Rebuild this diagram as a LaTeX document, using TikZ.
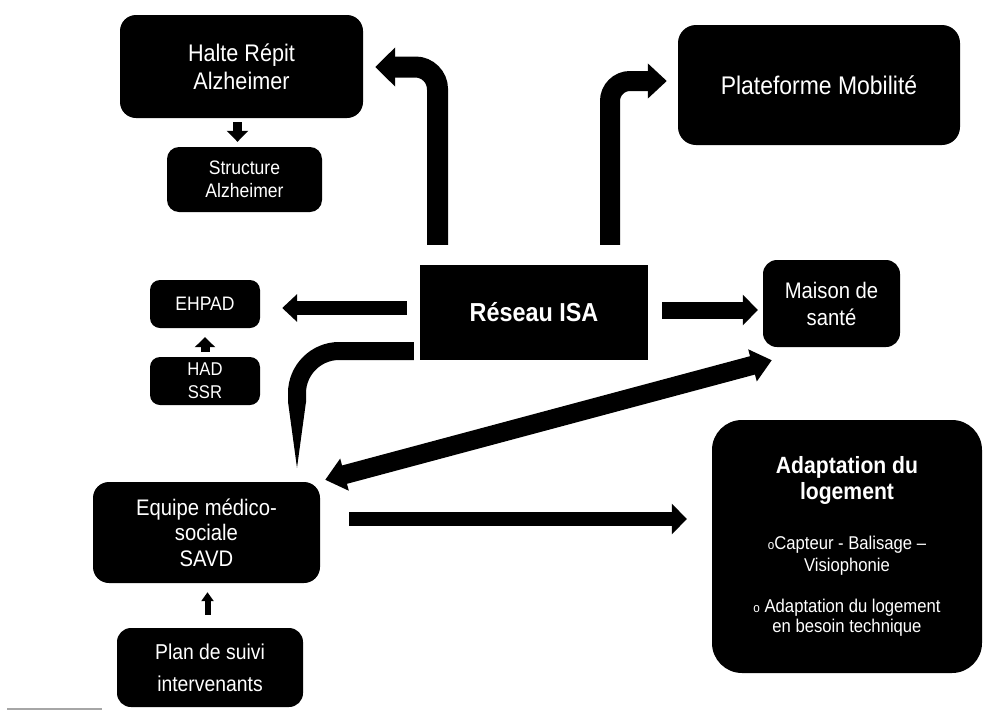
\documentclass[tikz,border=0pt]{standalone}
\usepackage{fontspec}
\setmainfont{Liberation Sans}[FakeStretch=0.9]
\usetikzlibrary{arrows.meta,calc}
\newcommand\fsz[2]{\fontsize{#1}{#2}\selectfont}
\begin{document}
\begin{tikzpicture}[x=1pt,y=-1pt,
  box/.style={fill=black, text=white, inner sep=0pt, align=center},
  arr/.style={draw=black, line cap=butt}]
\useasboundingbox (0,0) rectangle (986,710);

% boxes
\node[box, rounded corners=16pt, minimum width=243pt, minimum height=103pt, font=\fsz{24}{28}] (halte) at (241.5,66.5) {Halte Répit\\Alzheimer};
\node[box, rounded corners=12pt, minimum width=155pt, minimum height=65pt, font=\fsz{19.5}{23}] (struct) at (244.5,179.5) {Structure\\Alzheimer};
\node[box, rounded corners=18pt, minimum width=282pt, minimum height=120pt, font=\fsz{25.5}{28}] (plat) at (819,85) {Plateforme Mobilité};
\node[box, minimum width=228pt, minimum height=95pt, font=\bfseries\fsz{26}{28}] (reseau) at (534,312.5) {Réseau ISA};
\node[box, rounded corners=14pt, minimum width=137pt, minimum height=87pt, font=\fsz{22.5}{27}] (maison) at (831.5,303.5) {Maison de\\santé};
\node[box, rounded corners=10pt, minimum width=110pt, minimum height=48pt, font=\fsz{19.5}{22}] (ehpad) at (205,304) {EHPAD};
\node[box, rounded corners=10pt, minimum width=110pt, minimum height=48pt, font=\fsz{18.5}{23}] (had) at (205,381) {HAD\\SSR};
\node[box, rounded corners=16pt, minimum width=227pt, minimum height=101pt, font=\fsz{22.5}{25.5}] (equipe) at (206.5,532.5) {Equipe médico-\\sociale\\SAVD};
\node[box, rounded corners=14pt, minimum width=186pt, minimum height=79pt, font=\fsz{21.5}{32}] (plan) at (210,667.5) {Plan de suivi\\intervenants};
\node[box, rounded corners=30pt, minimum width=270pt, minimum height=253pt, font=\fsz{18.5}{20}] (adapt) at (847,546.5)
  {{\bfseries\fsz{23.5}{24}Adaptation du}\\[3pt]
   {\bfseries\fsz{23.5}{24}logement}\\[30pt]
   {\fsz{13}{12}o}Capteur - Balisage –\\[2pt]
   Visiophonie\\[21pt]
   {\fsz{13}{12}o} Adaptation du logement\\
   en besoin technique};

% small arrows
\draw[arr, line width=9pt, -{Triangle[length=11pt,width=21pt]}] ($(halte.south)+(-4,4)$) -- ($(struct.north)+(-7,-5)$);
\draw[arr, line width=9pt, -{Triangle[length=10pt,width=20pt]}] ($(had.north)+(0,-5)$) -- ($(ehpad.south)+(0,9)$);
\draw[arr, line width=6pt, -{Triangle[length=9pt,width=12pt]}] ($(plan.north)+(-2.5,-13)$) -- ($(equipe.south)+(1,9)$);

% straight arrows
\draw[arr, line width=14pt, -{Triangle[length=15pt,width=27pt]}] ($(reseau.west)+(-13,-4.5)$) -- ($(ehpad.east)+(22,4)$);
\draw[arr, line width=17pt, -{Triangle[length=15pt,width=30pt]}] ($(reseau.east)+(14,-2.5)$) -- ($(maison.west)+(-5,6.5)$);
\draw[arr, line width=14pt, -{Triangle[length=15pt,width=30pt]}] ($(equipe.east)+(29,-13.5)$) -- ($(adapt.west)+(-25,-27.5)$);
\draw[arr, line width=19pt, {Triangle[length=20pt,width=32pt]}-{Triangle[length=20pt,width=32pt]}] ($(equipe.north east)+(5,-2)$) -- ($(maison.south west)+(9,13)$);

% bent arrows (ends and corners from the node anchors)
\coordinate (s1) at ($(reseau.north)+(-96.5,-20)$);
\coordinate (e1) at ($(halte.east)+(12,0.5)$);
\coordinate (k1) at (s1 |- e1);
\draw[arr, line width=21pt, -{Triangle[length=20pt,width=38pt]}]
  (s1) -- ($(k1)+(0,22)$) .. controls ($(k1)+(0,10)$) and ($(k1)+(-10,0)$) .. ($(k1)+(-22,0)$) -- (e1);

\coordinate (s2) at ($(reseau.north)+(76,-20)$);
\coordinate (e2) at ($(plat.west)+(-11,-4)$);
\coordinate (k2) at (s2 |- e2);
\draw[arr, line width=20pt, -{Triangle[length=19pt,width=34pt]}]
  (s2) -- ($(k2)+(0,20)$) .. controls ($(k2)+(0,9)$) and ($(k2)+(9,0)$) .. ($(k2)+(20,0)$) -- (e2);

% bent arrow to Equipe, with a long tapering point
\coordinate (s3) at ($(reseau.west)+(-6,38.5)$);
\coordinate (e3) at ($(equipe.north)+(90.5,-14)$);
\coordinate (k3) at (e3 |- s3);
\coordinate (b3) at ($(e3)+(0,-66)$);
\draw[arr, line width=18pt]
  (s3) -- ($(k3)+(42,0)$) .. controls ($(k3)+(19,0)$) and ($(k3)+(0,19)$) .. ($(k3)+(0,42)$) -- ($(b3)+(0,0.5)$);
\fill[black] ($(b3)+(-9,0)$) -- ($(b3)+(9,0)$) -- (e3) -- cycle;

% footnote rule
\draw[gray!70, line width=1.2pt] (7,709) -- (102,709);
\end{tikzpicture}
\end{document}
